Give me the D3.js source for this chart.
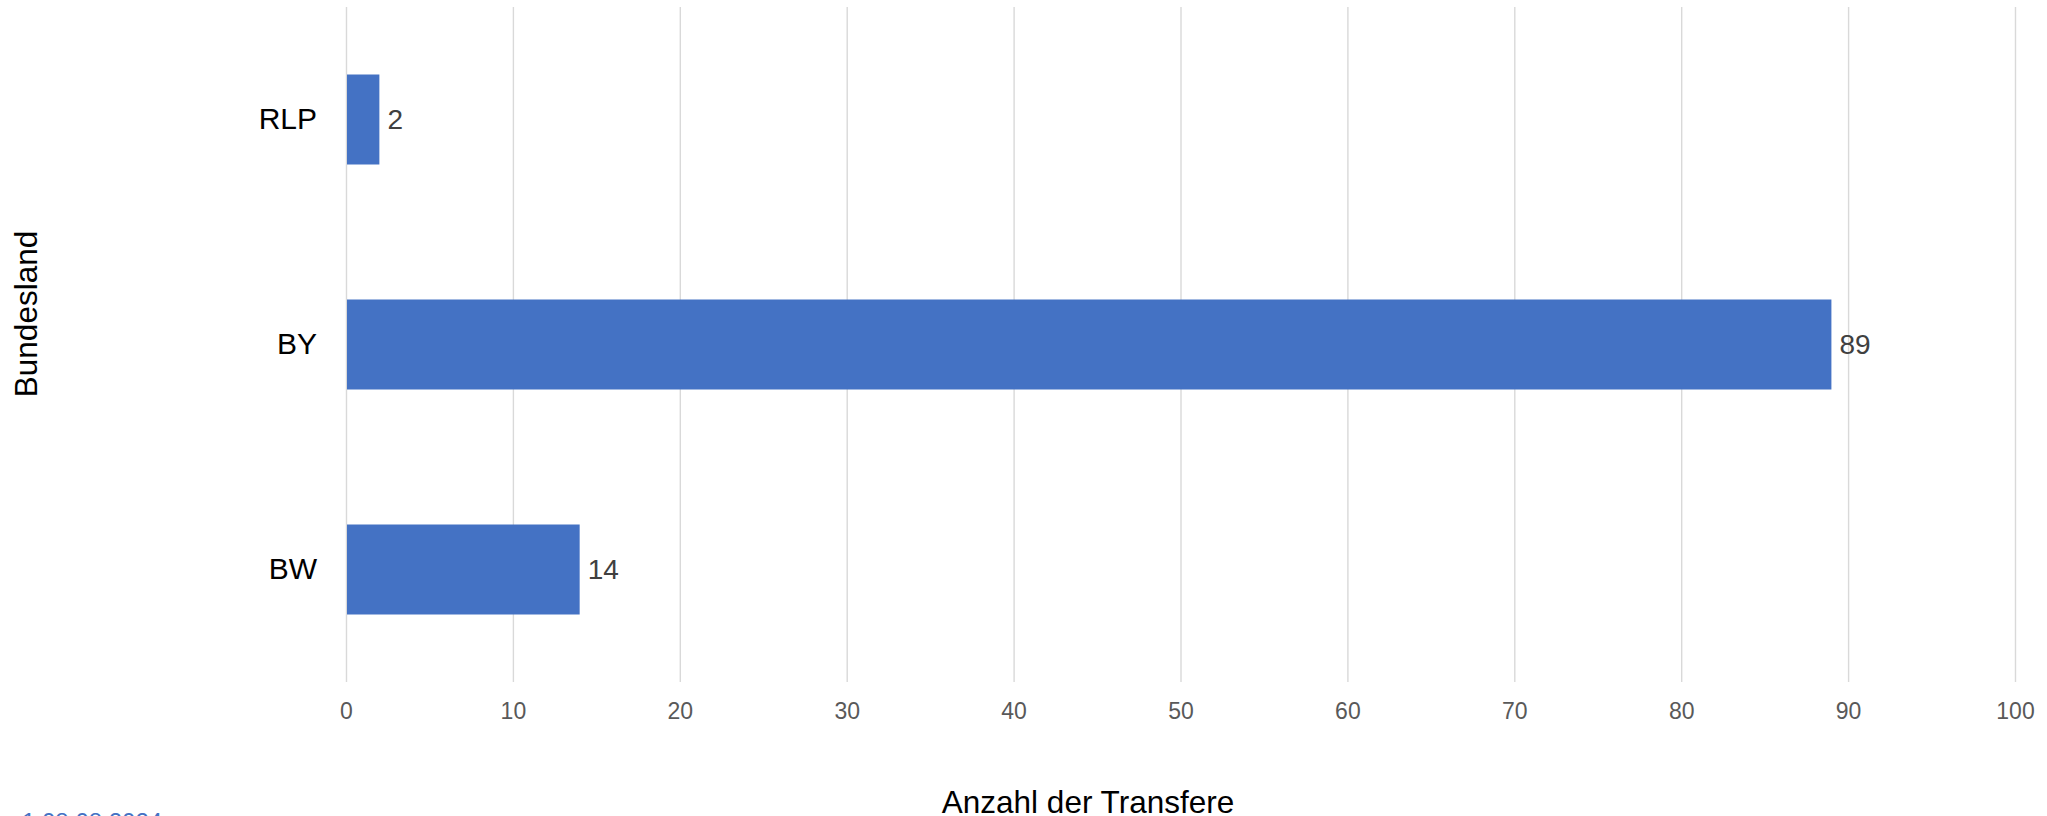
<!DOCTYPE html>
<html>
<head>
<meta charset="utf-8">
<script src="https://cdn.jsdelivr.net/npm/d3@7"></script>
<style>
  body { margin: 0; background: #fff; }
  svg { display: block; font-family: "Liberation Sans", Arial, sans-serif; }
</style>
</head>
<body>
<svg id="chart" width="2047" height="816"></svg>
<script>
// data
var states = ["RLP", "BY", "BW"];
var transfers = [2, 89, 14];
var xTicks = [0, 10, 20, 30, 40, 50, 60, 70, 80, 90, 100];
var xTitle = "Anzahl der Transfere";
var yTitle = "Bundesland";
var stamp = "1 08.08.2024";

var rows = states.map(function(s, i) { return {state: s, value: transfers[i]}; });

var svg = d3.select("#chart");
var margin = {top: 7, right: 32, bottom: 134, left: 346};
var width = +svg.attr("width") - margin.left - margin.right,
    height = +svg.attr("height") - margin.top - margin.bottom;

var g = svg.append("g")
  .attr("transform", "translate(" + margin.left + "," + margin.top + ")");

var x = d3.scaleLinear().domain([0, 100]).range([0, width]);
var y = d3.scaleBand().domain(states).range([0, height])
  .paddingInner(0.6).paddingOuter(0.3);

// vertical grid + tick labels
var xaxis = g.append("g")
  .attr("class", "axis axis--x")
  .attr("transform", "translate(0," + height + ")")
  .call(d3.axisBottom(x).tickValues(xTicks).tickSize(-height).tickPadding(21).tickFormat(d3.format("d")));

xaxis.select(".domain").remove();
xaxis.selectAll(".tick line")
  .attr("stroke", "#d9d9d9")
  .attr("stroke-width", 1.4);
xaxis.selectAll(".tick text")
  .attr("fill", "#595959")
  .style("font-size", "23px")
  .style("font-family", "'Liberation Sans', Arial, sans-serif");

// bars
g.selectAll("rect.bar")
  .data(rows)
  .enter().append("rect")
  .attr("class", "bar")
  .attr("x", x(0) + 1)
  .attr("y", function(d) { return y(d.state); })
  .attr("width", function(d) { return x(d.value) - x(0) - 1; })
  .attr("height", y.bandwidth())
  .attr("fill", "#4472c4");

// value labels
g.selectAll("text.value")
  .data(rows)
  .enter().append("text")
  .attr("class", "value")
  .attr("x", function(d) { return x(d.value) + 8; })
  .attr("y", function(d) { return y(d.state) + y.bandwidth() / 2; })
  .attr("dy", "0.35em")
  .attr("fill", "#404040")
  .style("font-size", "28px")
  .text(function(d) { return d.value; });

// category labels
var yaxis = g.append("g")
  .attr("class", "axis axis--y")
  .call(d3.axisLeft(y).tickSize(0).tickPadding(29));

yaxis.select(".domain").remove();
yaxis.selectAll(".tick text")
  .attr("fill", "#000")
  .style("font-size", "30px")
  .style("font-family", "'Liberation Sans', Arial, sans-serif");

// axis titles
svg.append("text")
  .attr("class", "label")
  .attr("text-anchor", "middle")
  .attr("transform", "translate(1088,813)")
  .style("font-size", "31.5px")
  .attr("fill", "#000")
  .text(xTitle);

svg.append("text")
  .attr("class", "label")
  .attr("text-anchor", "middle")
  .attr("transform", "translate(37,314)rotate(-90)")
  .style("font-size", "31.5px")
  .attr("fill", "#000")
  .text(yTitle);

// clipped stamp at the bottom edge
svg.append("text")
  .attr("x", 22)
  .attr("y", 830)
  .attr("fill", "#4472c4")
  .style("font-size", "24px")
  .text(stamp);
</script>
</body>
</html>
